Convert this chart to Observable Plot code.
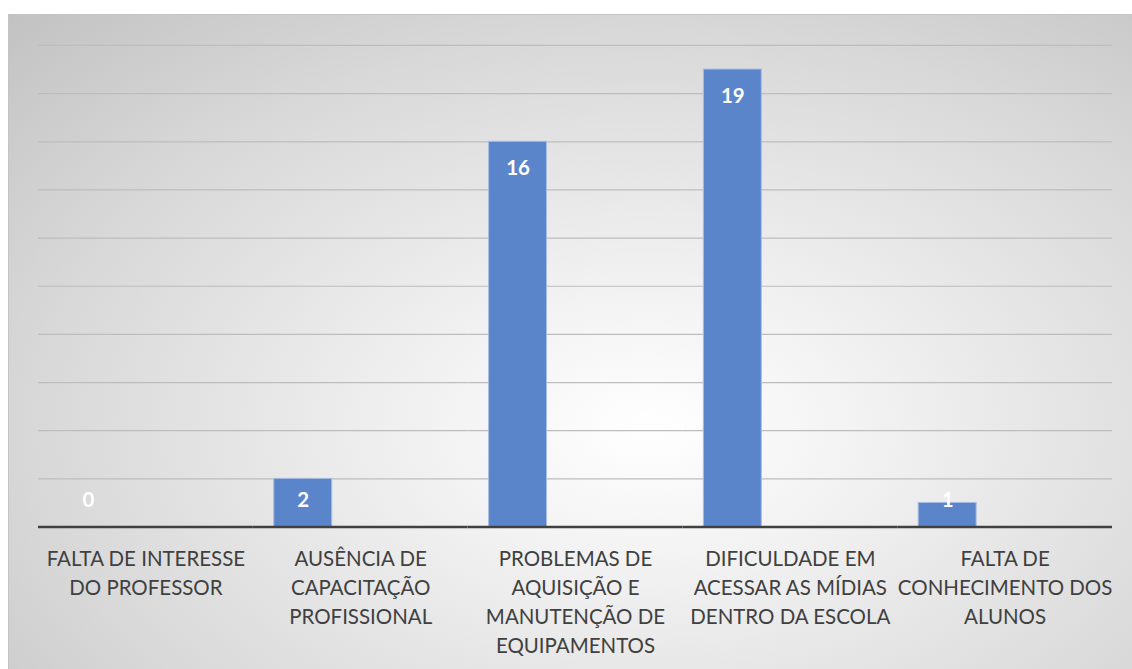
<!DOCTYPE html>
<html>
<head>
<meta charset="utf-8">
<script src="https://cdn.jsdelivr.net/npm/d3@7"></script>
<script src="https://cdn.jsdelivr.net/npm/@observablehq/plot@0.6"></script>
<style>
  html, body { margin: 0; padding: 0; background: #ffffff; }
  #chart {
    position: absolute; left: 8px; top: 14px; width: 1124px; height: 655px;
    background: radial-gradient(ellipse farthest-corner at 57% 63%, #ffffff 0%, #f3f3f3 22%, #d8d8d8 68%, #c2c2c2 100%);
    border-top: 1px solid #c4c4c4; border-left: 1px solid #c4c4c4;
    box-sizing: border-box;
  }
  #chart svg { position: absolute; left: 0; top: 0; background: transparent; }
</style>
</head>
<body>
<div id="chart"></div>
<script>
const categories = [
  "FALTA DE INTERESSE DO PROFESSOR",
  "AUSÊNCIA DE CAPACITAÇÃO PROFISSIONAL",
  "PROBLEMAS DE AQUISIÇÃO E MANUTENÇÃO DE EQUIPAMENTOS",
  "DIFICULDADE EM ACESSAR AS MÍDIAS DENTRO DA ESCOLA",
  "FALTA DE CONHECIMENTO DOS ALUNOS"
];
const tickLabels = [
  "FALTA DE INTERESSE\nDO PROFESSOR",
  "AUSÊNCIA DE\nCAPACITAÇÃO\nPROFISSIONAL",
  "PROBLEMAS DE\nAQUISIÇÃO E\nMANUTENÇÃO DE\nEQUIPAMENTOS",
  "DIFICULDADE EM\nACESSAR AS MÍDIAS\nDENTRO DA ESCOLA",
  "FALTA DE\nCONHECIMENTO DOS\nALUNOS"
];
const series = ["Série1", "Série2", "Série3"];
const values = [0, 2, 16, 19, 1];
const gridTicks = [2, 4, 6, 8, 10, 12, 14, 16, 18, 20];

const data = categories.map((c, i) => ({category: c, series: series[0], value: values[i]}));
const labelOf = new Map(categories.map((c, i) => [c, tickLabels[i]]));

const chart = Plot.plot({
  width: 1124,
  height: 655,
  marginTop: 30,
  marginBottom: 143,
  marginLeft: 29,
  marginRight: 20,
  style: {fontFamily: "Lato, 'Open Sans', sans-serif", fontSize: "20.5px", color: "#404040", background: "transparent"},
  fx: {domain: categories, paddingInner: 0, paddingOuter: 0},
  x: {domain: series, paddingInner: 0, paddingOuter: 0.353, axis: null},
  y: {domain: [0, 20], axis: null},
  marks: [
    Plot.gridY(gridTicks, {stroke: "#bdbdbd", strokeOpacity: 1, strokeWidth: 1.2}),
    Plot.barY(data, {fx: "category", x: "series", y: "value", fill: "#5b85cb", stroke: "#a8bde3", strokeWidth: 1}),
    Plot.ruleY([0], {stroke: "#404040", strokeWidth: 2.5}),
    Plot.text(data, {
      fx: "category", x: "series",
      y: d => Math.max(d.value - 1.1, 1.1),
      text: d => String(d.value),
      fill: "white", fontWeight: "bold", fontSize: 20.5
    }),
    Plot.axisFx({
      anchor: "bottom", tickSize: 0, tickPadding: 18, label: null,
      tickFormat: d => labelOf.get(d), lineHeight: 1.415, fontSize: 20.5
    })
  ]
});
document.getElementById("chart").appendChild(chart);
</script>
</body>
</html>
